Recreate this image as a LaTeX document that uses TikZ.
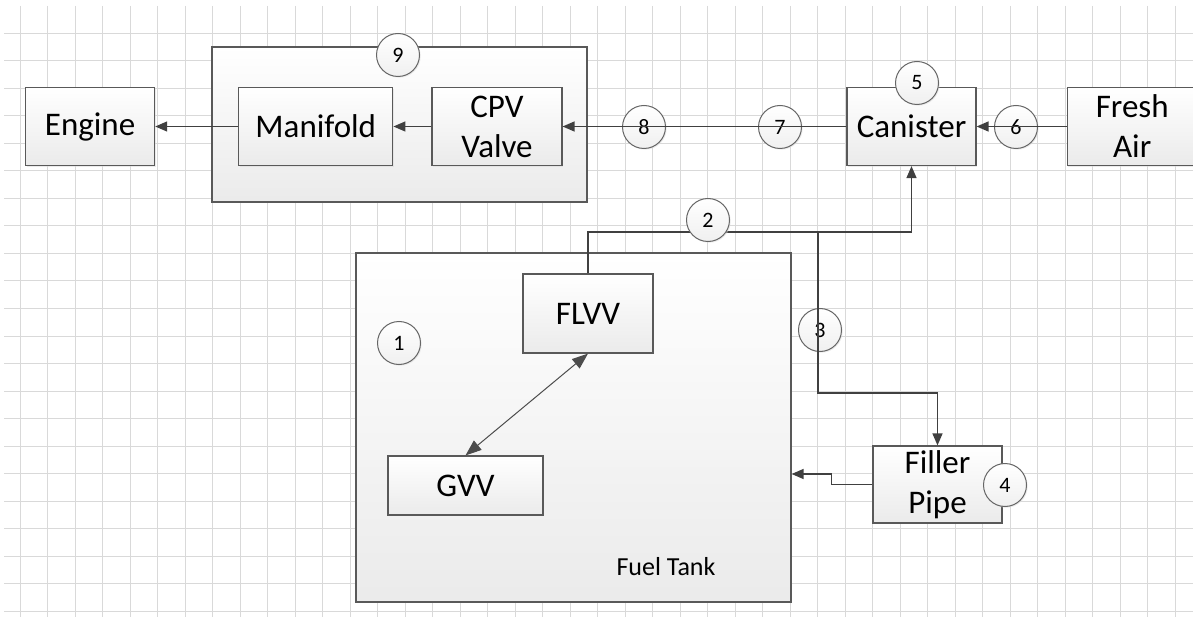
\documentclass[tikz,border=0pt]{standalone}
\usepackage{fontspec}
\setmainfont{Carlito}
\usetikzlibrary{arrows.meta,positioning,shadows}

\begin{document}
\begin{tikzpicture}[
  x=1pt,y=-1pt,
  node distance=38pt,
  frame/.style={draw=black!65,line width=1.2pt,top color=white,bottom color=black!8,
    drop shadow={shadow xshift=1.2pt,shadow yshift=-1.2pt,fill=black!15}},
  part/.style={frame,minimum width=130pt,minimum height=78pt,inner sep=0pt,align=center,
    font=\fontsize{33}{40}\selectfont},
  tag/.style={circle,draw=black!60,line width=1pt,top color=white,bottom color=black!6,
    minimum size=43pt,inner sep=0pt,font=\fontsize{22}{22}\selectfont,
    drop shadow={shadow xshift=1.2pt,shadow yshift=-1.2pt,fill=black!15}},
  flow/.style={draw=black!75,line width=1.3pt,-{Triangle[length=12pt,width=10pt]}},
  twoway/.style={draw=black!70,line width=1pt,
    {Triangle[length=16pt,width=12pt]}-{Triangle[length=16pt,width=12pt]}},
  gridline/.style={black!15,line width=1pt}
]
  \useasboundingbox (0,0) rectangle (1193,617);
  \clip (0,0) rectangle (1193,617);
  \fill[white] (0,0) rectangle (1193,617);

  \foreach \gx in {0,...,42}
    \draw[gridline] ({20+27.5*\gx},6) -- ({20+27.5*\gx},617);
  \foreach \gy in {1,...,22}
    \draw[gridline] (4,{6+27.5*\gy}) -- (1193,{6+27.5*\gy});

  \node[frame,minimum width=375pt,minimum height=155pt] (intake) at (399.5,124.5) {};
  \node[part] (cpv) at (497,126.5) {CPV\\Valve};
  \node[part,minimum width=154pt,left=38pt of cpv] (manifold) {Manifold};
  \node[part,minimum width=129pt,left=83pt of manifold] (engine) {Engine};
  \node[part,minimum width=129pt] (canister) at (911.5,126.5) {Canister};
  \node[part,right=90pt of canister] (freshair) {Fresh\\Air};

  \node[frame,minimum width=435pt,minimum height=349pt] (tank) at (573.5,427.5) {};
  \node[font=\fontsize{26}{26}\selectfont] (tanklabel) at (666,567) {Fuel Tank};
  \node[part,minimum height=79pt] (flvv) at (588,313.5) {FLVV};
  \node[part,minimum width=155pt,minimum height=59pt] (gvv) at (465.5,485.5) {GVV};
  \node[part,minimum width=129pt,minimum height=77pt] (filler) at (937.5,484.5) {Filler\\Pipe};

  \node[tag] (n9) at (398,55) {9};
  \node[tag] (n5) at (917,83) {5};
  \node[tag] (n8) at (644,127) {8};
  \node[tag] (n7) at (780,127) {7};
  \node[tag] (n6) at (1016,127) {6};
  \node[tag] (n1) at (399,343) {1};
  \node[tag] (n3) at (820,330) {3};
  \node[tag] (n4) at (1005,485) {4};

  \coordinate (split) at (818,232);
  \coordinate (bend) at (818,393);
  \coordinate (inlet) at ([yshift=-46.5pt]tank.east);

  \draw[flow] (manifold) -- (engine);
  \draw[flow] (cpv) -- (manifold);
  \draw[flow] (canister) -- (cpv);
  \draw[flow] (freshair) -- (canister);
  \draw[flow] (flvv.north) |- (split) -| (canister.south);
  \draw[flow] (split) -- (bend) -| (filler.north);
  \draw[flow] (filler.west) -- ++(-41,0) |- (inlet);
  \draw[twoway] (gvv.north) -- (flvv.south);

  \node[tag] (n2) at (708,220) {2};
\end{tikzpicture}
\end{document}
